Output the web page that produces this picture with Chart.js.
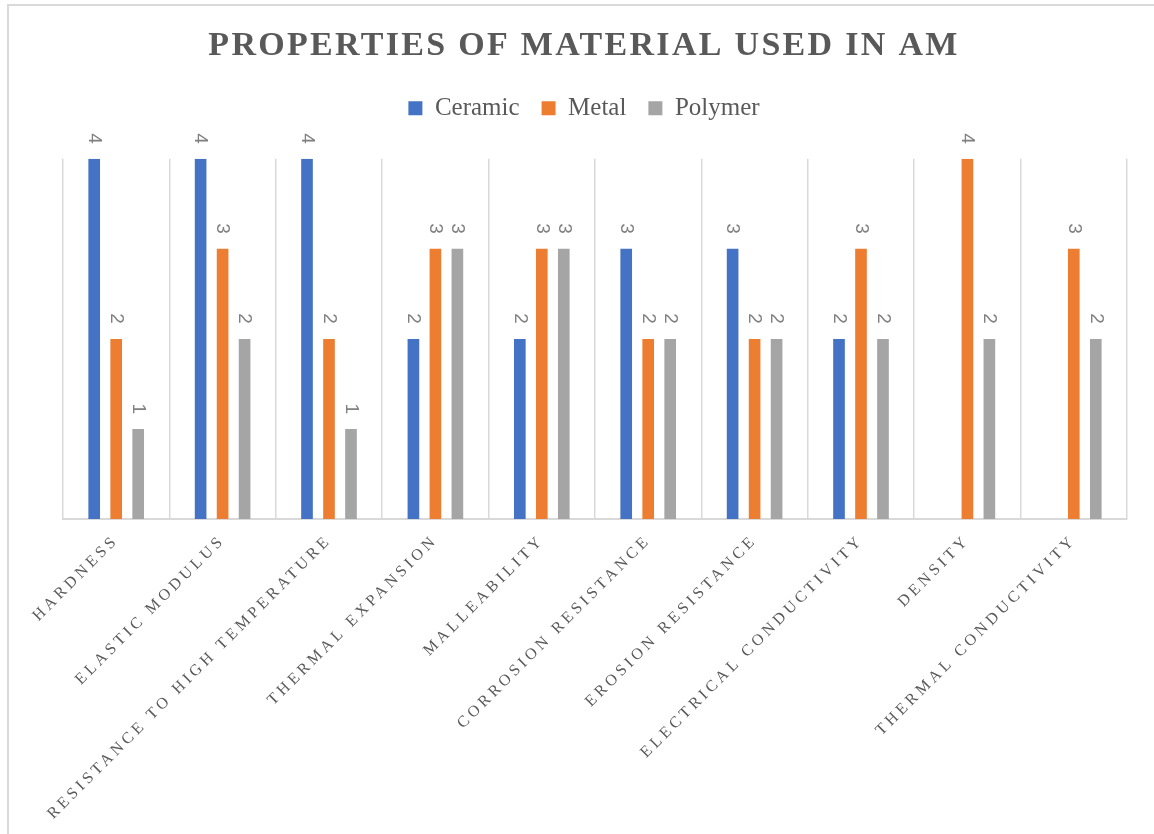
<!DOCTYPE html>
<html>
<head>
<meta charset="utf-8">
<script src="https://cdn.jsdelivr.net/npm/chart.js@4"></script>
<style>
  html, body { margin: 0; padding: 0; background: #ffffff; overflow: hidden; }
  #frame { position: absolute; left: 7px; top: 4px; width: 1200px; height: 900px;
           border: 2px solid #d9d9d9; box-sizing: border-box; }
  #chart { position: absolute; left: 0; top: 0; }
</style>
</head>
<body>
<div id="frame"></div>
<canvas id="chart" width="1154" height="834"></canvas>
<script>
// Rated properties of additive-manufacturing material classes
const categories = [
  'Hardness', 'Elastic modulus', 'Resistance to high temperature', 'Thermal expansion',
  'Malleability', 'Corrosion resistance', 'Erosion resistance', 'Electrical conductivity',
  'Density', 'Thermal conductivity'
];
const ceramic = [4, 4, 4, 2, 2, 3, 3, 2, null, null];
const metal   = [2, 3, 2, 3, 3, 2, 2, 3, 4, 3];
const polymer = [1, 2, 1, 3, 3, 2, 2, 2, 2, 2];
const yTicks  = [0, 1, 2, 3, 4];

const SERIF = '"Liberation Serif", "Times New Roman", serif';
const SANS = '"Liberation Sans", Arial, sans-serif';

// Wrap a draw method so its text is rendered with extra letter spacing
function spaced(obj, method, spacing) {
  if (!obj || obj['__spaced_' + method]) return;
  const orig = obj[method];
  obj[method] = function (...args) {
    const ctx = this.ctx;
    ctx.save();
    ctx.letterSpacing = spacing;
    const r = orig.apply(this, args);
    ctx.restore();
    return r;
  };
  obj['__spaced_' + method] = true;
}

const letterSpacingPlugin = {
  id: 'letterSpacing',
  beforeLayout(chart) {
    // leave a band of white space between the legend and the bars
    const legend = chart.legend;
    if (legend && !legend.__gap) {
      const fit = legend.fit;
      legend.fit = function () { fit.call(this); this.height += 28; };
      legend.__gap = true;
    }
  },
  beforeDraw(chart) {
    spaced(chart.titleBlock, 'draw', '2.3px');
    spaced(chart.scales.x, 'drawLabels', '3.7px');
  }
};

// Value labels above each bar, turned a quarter turn clockwise
const valueLabels = {
  id: 'valueLabels',
  afterDatasetsDraw(chart) {
    const ctx = chart.ctx;
    chart.data.datasets.forEach((ds, di) => {
      const meta = chart.getDatasetMeta(di);
      meta.data.forEach((bar, i) => {
        const v = ds.data[i];
        if (v === null || v === undefined) return;
        ctx.save();
        ctx.translate(bar.x, bar.y - 15);
        ctx.rotate(Math.PI / 2);
        ctx.font = '19px ' + SANS;
        ctx.fillStyle = '#808080';
        ctx.textAlign = 'right';
        ctx.textBaseline = 'middle';
        ctx.fillText(String(v), 0, 0);
        ctx.restore();
      });
    });
  }
};

new Chart(document.getElementById('chart'), {
  type: 'bar',
  data: {
    labels: categories.map(c => c.toUpperCase()),
    datasets: [
      { label: 'Ceramic', data: ceramic, backgroundColor: '#4472C4' },
      { label: 'Metal',   data: metal,   backgroundColor: '#ED7D31' },
      { label: 'Polymer', data: polymer, backgroundColor: '#A5A5A5' }
    ]
  },
  options: {
    responsive: false,
    animation: false,
    devicePixelRatio: 1,
    layout: { padding: { left: 24, right: 10, top: 16, bottom: 0 } },
    datasets: { bar: { categoryPercentage: 0.62, barPercentage: 0.53 } },
    plugins: {
      tooltip: { enabled: false },
      title: {
        display: true,
        text: 'PROPERTIES OF MATERIAL USED IN AM',
        color: '#595959',
        font: { family: SERIF, size: 34, weight: 'bold' },
        padding: { top: 10, bottom: 7 }
      },
      legend: {
        display: true,
        position: 'top',
        labels: {
          boxWidth: 14, boxHeight: 14, padding: 22,
          color: '#595959',
          font: { family: SERIF, size: 25 }
        }
      }
    },
    scales: {
      x: {
        grid: { display: true, offset: true, color: '#d9d9d9', lineWidth: 1.5, drawTicks: false },
        border: { display: true, color: '#d9d9d9', width: 2 },
        ticks: {
          autoSkip: false, minRotation: 45, maxRotation: 45, padding: 12,
          color: '#595959', font: { family: SERIF, size: 16 }
        },
        afterFit(scale) { scale.height = 315; }
      },
      y: {
        display: true,
        position: 'left',
        min: 0, max: 4,
        grid: { display: false },
        border: { display: false },
        ticks: { display: false },
        afterBuildTicks(scale) { scale.ticks = yTicks.map(v => ({ value: v })); },
        afterFit(scale) { scale.width = 39; }
      },
      yRight: {
        display: true,
        position: 'right',
        min: 0, max: 4,
        grid: { display: false },
        border: { display: false },
        ticks: { display: false },
        afterFit(scale) { scale.width = 17; }
      }
    }
  },
  plugins: [letterSpacingPlugin, valueLabels]
});
</script>
</body>
</html>
